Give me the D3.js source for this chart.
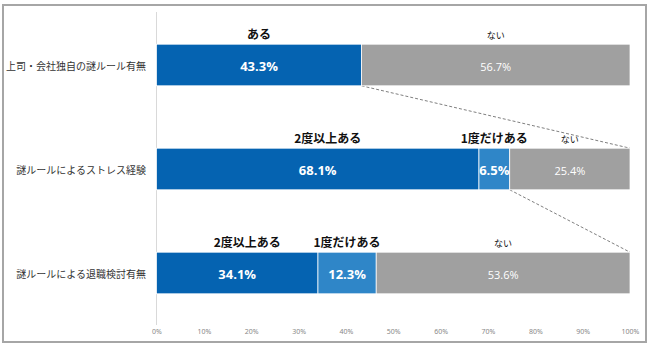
<!DOCTYPE html>
<html>
<head>
<meta charset="utf-8">
<script src="https://cdn.jsdelivr.net/npm/d3@7"></script>
<style>
  html, body { margin: 0; padding: 0; background: #fff; }
  svg { display: block; font-family: "Noto Sans CJK JP", "Noto Sans", sans-serif; }
</style>
</head>
<body>
<svg id="chart" width="650" height="346"></svg>
<script>
// Survey rows (top to bottom)
const questions = ["上司・会社独自の謎ルール有無", "謎ルールによるストレス経験", "謎ルールによる退職検討有無"];

// Segments per row: label and percentage
const row1Labels = ["ある", "ない"];
const row1Values = [43.3, 56.7];
const row2Labels = ["2度以上ある", "1度だけある", "ない"];
const row2Values = [68.1, 6.5, 25.4];
const row3Labels = ["2度以上ある", "1度だけある", "ない"];
const row3Values = [34.1, 12.3, 53.6];

// Segment kinds drive colours and label weight
const row1Kinds = ["yes", "no"];
const row2Kinds = ["many", "once", "no"];
const row3Kinds = ["many", "once", "no"];

const tickValues = [0, 10, 20, 30, 40, 50, 60, 70, 80, 90, 100];

const colors = { yes: "#0563b1", many: "#0563b1", once: "#2f86c8", no: "#a0a0a0" };

const rows = [
  { q: questions[0], labels: row1Labels, values: row1Values, kinds: row1Kinds },
  { q: questions[1], labels: row2Labels, values: row2Values, kinds: row2Kinds },
  { q: questions[2], labels: row3Labels, values: row3Values, kinds: row3Kinds }
];

const svg = d3.select("#chart");

// Outer frame
svg.append("rect")
  .attr("x", 3).attr("y", 5).attr("width", 643).attr("height", 337)
  .attr("fill", "none").attr("stroke", "#a6a6a6").attr("stroke-width", 2);

const x = d3.scaleLinear().domain([0, 100]).range([156.5, 630]);
const y = d3.scaleBand().domain(questions).range([13, 325]).paddingInner(0.6).paddingOuter(0.3);

// Baseline at 0%
svg.append("line")
  .attr("x1", x(0)).attr("x2", x(0))
  .attr("y1", 12).attr("y2", 325)
  .attr("stroke", "#d9d9d9").attr("stroke-width", 1);

// Percent axis labels
const axis = svg.append("g")
  .attr("transform", "translate(0,325)")
  .call(d3.axisBottom(x).tickValues(tickValues).tickSize(0).tickPadding(4).tickFormat(d => d + "%"));
axis.select(".domain").remove();
axis.selectAll("text")
  .attr("fill", "#888")
  .style("font-size", "7px")
  .style("font-family", "\"Noto Sans\", sans-serif");

// Question labels
svg.append("g").selectAll("text")
  .data(rows).join("text")
  .attr("x", 146)
  .attr("y", d => y(d.q) + y.bandwidth() / 2)
  .attr("text-anchor", "end")
  .attr("dominant-baseline", "central")
  .attr("fill", "#333")
  .style("font-size", "10px")
  .text(d => d.q);

// Build stacked segments
rows.forEach(r => {
  let acc = 0;
  r.segs = r.values.map((v, i) => {
    const s = { start: acc, end: acc + v, value: v, label: r.labels[i], kind: r.kinds[i], q: r.q };
    acc += v;
    return s;
  });
});

// Zoom-out connector lines between rows
const connectors = [
  { from: rows[0].segs[0].end, fromRow: rows[0], toRow: rows[1] },
  { from: rows[1].segs[0].end + 0 + rows[1].segs[1].value, fromRow: rows[1], toRow: rows[2] }
];
svg.append("g").selectAll("line")
  .data(connectors).join("line")
  .attr("x1", d => x(d.from))
  .attr("y1", d => y(d.fromRow.q) + y.bandwidth())
  .attr("x2", x(100))
  .attr("y2", d => y(d.toRow.q))
  .attr("stroke", "#7f7f7f")
  .attr("stroke-width", 1)
  .attr("stroke-dasharray", "3,2");

const segs = rows.flatMap(r => r.segs);

// Bars
svg.append("g").selectAll("rect")
  .data(segs).join("rect")
  .attr("x", d => x(d.start))
  .attr("y", d => y(d.q))
  .attr("width", d => x(d.end) - x(d.start))
  .attr("height", y.bandwidth())
  .attr("fill", d => colors[d.kind])
  .attr("stroke", "#fff")
  .attr("stroke-width", 0.75);

// Value labels inside bars
svg.append("g").selectAll("text")
  .data(segs).join("text")
  .attr("x", d => x((d.start + d.end) / 2))
  .attr("y", d => y(d.q) + y.bandwidth() / 2 + 1)
  .attr("text-anchor", "middle")
  .attr("dominant-baseline", "central")
  .attr("fill", "#fff")
  .style("font-family", "\"Open Sans\", \"Noto Sans\", sans-serif")
  .style("font-size", d => d.kind === "no" ? "11px" : "13px")
  .style("font-weight", d => d.kind === "no" ? "normal" : "bold")
  .text(d => d.value.toFixed(1) + "%");

// Category labels above bars
svg.append("g").selectAll("text")
  .data(segs).join("text")
  .attr("x", d => x((d.start + d.end) / 2) + (d.kind === "many" ? 10 : 0))
  .attr("y", d => y(d.q) - 5)
  .attr("text-anchor", "middle")
  .attr("fill", "#111")
  .style("font-size", d => d.kind === "no" ? "9px" : "12px")
  .style("font-weight", d => d.kind === "no" ? "normal" : "bold")
  .text(d => d.label);
</script>
</body>
</html>
